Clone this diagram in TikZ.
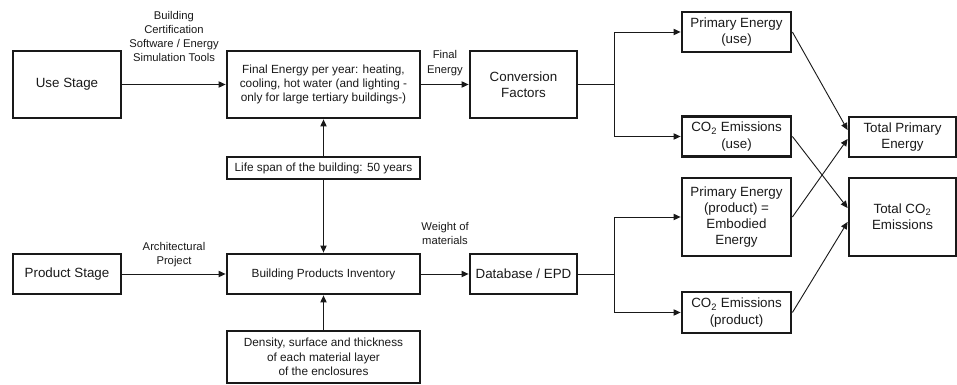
\documentclass[tikz,border=0pt]{standalone}
\usepackage{fontspec}
\setmainfont{Liberation Sans}
\usepackage{tikz}
\usetikzlibrary{arrows.meta, positioning, calc}
\definecolor{mydark}{RGB}{25,25,25}
\tikzset{
  block/.style={rectangle, draw=mydark, line width=2pt, align=center,
    inner sep=2pt, text=mydark, font=\fontsize{9.5}{11.5}\selectfont},
  wideblock/.style={block, minimum width=4.825cm,
    font=\fontsize{8.4}{10.2}\selectfont},
  arrow/.style={-{Triangle[length=5pt,width=4.5pt]}, line width=0.65pt, color=mydark},
  line/.style={line width=0.65pt, color=mydark},
  lbl/.style={align=center, text=mydark, font=\fontsize{8}{10}\selectfont}
}

\begin{document}
\begin{tikzpicture}
  \useasboundingbox (0,0) rectangle (23.925,-9.625);

  % Use stage row
  \node[block, minimum width=2.7cm, minimum height=1.675cm] (use) at (1.675,-2.1125) {Use Stage};
  \node[wideblock, minimum height=1.675cm] (final) at (8.0875,-2.1125)
    {Final Energy per year: heating,\\cooling, hot water (and lighting -\\only for large tertiary buildings-)};
  \node[block, minimum width=2.675cm, minimum height=1.675cm] (conv) at (13.0875,-2.1125) {Conversion\\Factors};
  \node[block, minimum width=2.725cm, minimum height=1cm] (peuse) at (18.4125,-0.8) {Primary Energy\\(use)};
  \node[block, minimum width=2.725cm, minimum height=1cm] (co2use) at (18.4125,-3.4125) {CO\textsubscript{2} Emissions\\(use)};
  \node[block, minimum width=2.675cm, minimum height=1cm] (tpe) at (22.5625,-3.425) {Total Primary\\Energy};

  % Life span
  \node[wideblock, minimum height=0.55cm] (life) at (8.0875,-4.2) {Life span of the building: 50 years};

  % Product stage row
  \node[block, minimum width=2.7cm, minimum height=1cm] (prod) at (1.675,-6.85) {Product Stage};
  \node[wideblock, minimum height=1cm] (inv) at (8.0875,-6.85) {Building Products Inventory};
  \node[wideblock, minimum height=1.3cm] (dens) at (8.0875,-8.925)
    {Density, surface and thickness\\of each material layer\\of the enclosures};
  \node[block, minimum width=2.675cm, minimum height=1cm] (db) at (13.0875,-6.85) {Database / EPD};
  \node[block, minimum width=2.725cm, minimum height=1.95cm] (peprod) at (18.4125,-5.425)
    {Primary Energy\\(product) =\\Embodied\\Energy};
  \node[block, minimum width=2.725cm, minimum height=1.025cm] (co2prod) at (18.4125,-7.8125)
    {CO\textsubscript{2} Emissions\\(product)};
  \node[block, minimum width=2.675cm, minimum height=1.95cm] (tco2) at (22.5625,-5.425) {Total CO\textsubscript{2}\\Emissions};

  % Connections, use stage
  \draw[arrow] (use) -- node[lbl, above=0.45cm] {Building\\Certification\\Software / Energy\\Simulation Tools} (final);
  \draw[arrow] (final) -- node[lbl, above=0.1cm] {Final\\Energy} (conv);
  \coordinate (csplit) at ($(conv.east)+(0.9,0)$);
  \draw[line] (conv) -- (csplit);
  \draw[arrow] (csplit) |- (peuse);
  \draw[arrow] (csplit) |- (co2use);

  % Connections, life span and density
  \draw[arrow] (life) -- (final);
  \draw[arrow] (life) -- (inv);
  \draw[arrow] (dens) -- (inv);

  % Connections, product stage
  \draw[arrow] (prod) -- node[lbl, above=0.05cm] {Architectural\\Project} (inv);
  \draw[arrow] (inv) -- node[lbl, above=0.6cm] {Weight of\\materials} (db);
  \coordinate (dsplit) at ($(db.east)+(0.9,0)$);
  \draw[line] (db) -- (dsplit);
  \draw[arrow] (dsplit) |- (peprod);
  \draw[arrow] (dsplit) |- (co2prod);

  % Totals
  \draw[arrow] (peuse.east) -- ([yshift=0.175cm]tpe.west);
  \draw[arrow] (co2use.east) -- ([yshift=0.225cm]tco2.west);
  \draw[arrow] (peprod.east) -- ([yshift=-0.05cm]tpe.west);
  \draw[arrow] (co2prod.east) -- ([yshift=-0.125cm]tco2.west);

\end{tikzpicture}
\end{document}
